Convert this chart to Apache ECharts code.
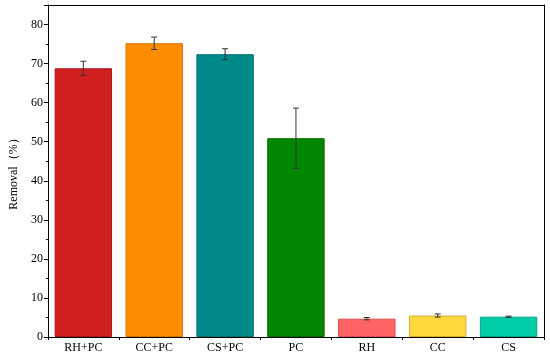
<!DOCTYPE html>
<html><head><meta charset="utf-8">
<script src="https://cdn.jsdelivr.net/npm/echarts@6/dist/echarts.min.js"></script>
<style>html,body{margin:0;padding:0;background:#fff}#c{width:550px;height:358px}</style>
</head><body><div id="c"></div>
<script>
var categories = ['RH+PC','CC+PC','CS+PC','PC','RH','CC','CS'];
var removal = [68.8, 75.2, 72.4, 50.9, 4.7, 5.5, 5.2];
var errors = [1.8, 1.6, 1.4, 7.7, 0.3, 0.4, 0.15];
var barColors = ['#d21f1f','#ff8c00','#008b8b','#008700','#ff6363','#ffd83d','#00cca8'];
var borderColors = ['#a81818','#d47400','#007070','#006c00','#d85050','#d4b030','#00a688'];
var yTicks = [0,10,20,30,40,50,60,70,80];

var chart = echarts.init(document.getElementById('c'));
var font = 'Liberation Serif';
var barData = removal.map(function(v,i){return {value:v,itemStyle:{color:barColors[i],borderColor:borderColors[i],borderWidth:1}};});
var errData = removal.map(function(v,i){return [i, v-errors[i], v+errors[i]];});
chart.setOption({
  animation:false,
  grid:{left:36,right:6,top:5,bottom:21},
  xAxis:[{
    type:'category',data:categories,
    axisLine:{lineStyle:{color:'#000',width:1}},
    axisTick:{alignWithLabel:true,length:3,inside:false,lineStyle:{color:'#000'}},
    axisLabel:{color:'#000',fontFamily:font,fontSize:12,margin:5},
    splitLine:{show:false}
  },{
    type:'category',data:categories,position:'bottom',
    axisLine:{show:false},axisTick:{show:true,length:3,lineStyle:{color:'#000'}},
    axisLabel:{show:false}
  },{
    type:'category',data:categories,position:'top',
    axisLine:{show:true,lineStyle:{color:'#000'}},axisTick:{show:false},axisLabel:{show:false}
  }],
  yAxis:[{
    type:'value',min:0,max:85,interval:10,
    name:'Removal（%）',nameLocation:'middle',nameGap:24,
    nameTextStyle:{color:'#000',fontFamily:font,fontSize:12},
    axisLine:{show:true,lineStyle:{color:'#000'}},
    axisTick:{show:true,length:4,lineStyle:{color:'#000'}},
    minorTick:{show:true,splitNumber:2,length:2,lineStyle:{color:'#000'}},
    axisLabel:{color:'#000',fontFamily:font,fontSize:12,margin:5,
      formatter:function(v){return yTicks.indexOf(v)>=0?String(v):'';}},
    splitLine:{show:false}
  },{
    type:'value',min:0,max:85,position:'right',
    axisLine:{show:true,lineStyle:{color:'#000'}},axisTick:{show:false},axisLabel:{show:false},splitLine:{show:false}
  }],
  series:[{
    type:'bar',data:barData,barWidth:'81%'
  },{
    type:'custom',data:errData,z:10,
    renderItem:function(params,api){
      var x=api.value(0);
      var lo=api.coord([x,api.value(1)]);
      var hi=api.coord([x,api.value(2)]);
      var w=3;
      var st={stroke:'#333',lineWidth:1};
      return {type:'group',children:[
        {type:'line',shape:{x1:lo[0],y1:lo[1],x2:hi[0],y2:hi[1]},style:st},
        {type:'line',shape:{x1:lo[0]-w,y1:lo[1],x2:lo[0]+w,y2:lo[1]},style:st},
        {type:'line',shape:{x1:hi[0]-w,y1:hi[1],x2:hi[0]+w,y2:hi[1]},style:st}
      ]};
    }
  }]
});
</script></body></html>
